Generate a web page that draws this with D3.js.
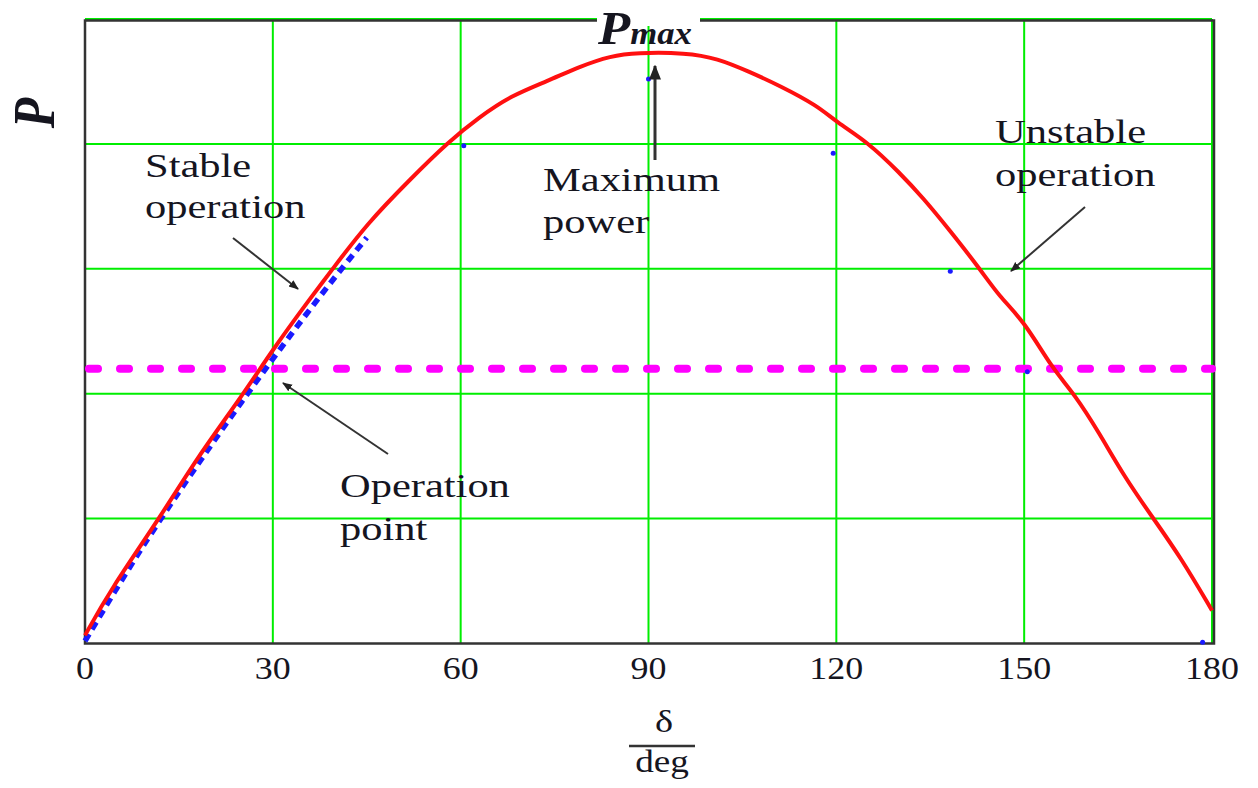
<!DOCTYPE html>
<html lang="en">
<head>
<meta charset="utf-8">
<title>Power angle curve</title>
<script src="https://d3js.org/d3.v7.min.js"></script>
<style>
  body { margin: 0; background: #fff; }
  text { font-family: "Liberation Serif", "Times New Roman", serif; fill: #15151f; }
</style>
</head>
<body>
<script>
// tick labels on the delta axis
var xTicks = [0, 30, 60, 90, 120, 150, 180];
var yGrid = [0.2, 0.4, 0.6, 0.8, 1.0];

// red curve P(delta)
var redDeg = [0, 4, 12, 18, 25, 30, 36, 39.5, 45, 52, 58, 63, 68, 74, 79, 84, 88,
              96, 101, 106, 111, 117, 120, 125, 130, 134, 138, 143, 146, 150, 154.5, 158, 162, 166, 170.5, 175, 180];
var redP = [0.013, 0.085, 0.202, 0.299, 0.395, 0.471, 0.553, 0.599, 0.672, 0.744, 0.803, 0.843, 0.877, 0.901, 0.924, 0.941, 0.946,
            0.946, 0.937, 0.916, 0.893, 0.861, 0.835, 0.803, 0.755, 0.712, 0.663, 0.599, 0.556, 0.516, 0.44, 0.40, 0.337, 0.267, 0.202, 0.138, 0.053];

// blue dashed curve (only the visible part)
var blueDeg = [0, 5, 10, 15, 20, 25, 30, 35, 40, 45];
var blueP = [0.004, 0.088, 0.168, 0.243, 0.316, 0.387, 0.456, 0.523, 0.588, 0.65];

// leftover blue fragments
var fragDeg = [60.5, 90, 119.5, 138.2, 150.5, 178.5];
var fragP = [0.797, 0.904, 0.785, 0.596, 0.435, 0.002];

// operating power (magenta line)
var opP = 0.44;

var W = 1258, H = 788;
var svg = d3.select("body").append("svg").attr("width", W).attr("height", H);

var x = d3.scaleLinear().domain([0, 180]).range([85, 1212]);
var y = d3.scaleLinear().domain([0, 1]).range([643.5, 19]);

// arrow marker
svg.append("defs").append("marker")
  .attr("id", "ah").attr("viewBox", "0 0 10 10")
  .attr("refX", 9).attr("refY", 5)
  .attr("markerWidth", 5).attr("markerHeight", 5)
  .attr("orient", "auto-start-reverse")
  .append("path").attr("d", "M0,1 L10,5 L0,9 Z").attr("fill", "#222");

// grid
svg.append("g").selectAll("line").data(xTicks.slice(1))
  .enter().append("line")
  .attr("x1", function(d) { return x(d); }).attr("x2", function(d) { return x(d); })
  .attr("y1", y(1)).attr("y2", y(0))
  .attr("stroke", "#00ee00").attr("stroke-width", 2);

svg.append("g").selectAll("line").data(yGrid)
  .enter().append("line")
  .attr("x1", x(0)).attr("x2", x(180))
  .attr("y1", function(d) { return y(d); }).attr("y2", function(d) { return y(d); })
  .attr("stroke", "#00ee00").attr("stroke-width", 2);

// black frame
svg.append("rect")
  .attr("x", x(0)).attr("y", y(1) + 1.5)
  .attr("width", x(180) - x(0) + 2).attr("height", y(0) - y(1) - 1.5)
  .attr("fill", "none").attr("stroke", "#333").attr("stroke-width", 2.5);

// gap in top frame for the Pmax label
svg.append("rect").attr("x", 597).attr("y", 8).attr("width", 103).attr("height", 18).attr("fill", "#fff");

// tick labels
svg.append("g").selectAll("text").data(xTicks)
  .enter().append("text")
  .attr("transform", function(d) { return "translate(" + x(d) + ",679) scale(1.16,1)"; })
  .attr("text-anchor", "middle")
  .style("font-size", "31px")
  .text(function(d) { return d; });

// magenta operating line
svg.append("line")
  .attr("x1", x(0) + 4).attr("x2", x(180))
  .attr("y1", y(opP)).attr("y2", y(opP))
  .attr("stroke", "#ff00ff").attr("stroke-width", 8)
  .attr("stroke-linecap", "round")
  .attr("stroke-dasharray", "9 22");

var line = d3.line()
  .x(function(d) { return x(d[0]); })
  .y(function(d) { return y(d[1]); })
  .curve(d3.curveBasis);

// blue dashed curve
svg.append("path")
  .datum(d3.zip(blueDeg, blueP))
  .attr("d", line)
  .attr("fill", "none").attr("stroke", "#1a1aff").attr("stroke-width", 5.5)
  .attr("stroke-dasharray", "8 6");

// red curve
svg.append("path")
  .datum(d3.zip(redDeg, redP))
  .attr("d", line)
  .attr("fill", "none").attr("stroke", "#ff1010").attr("stroke-width", 4);

svg.append("g").selectAll("circle").data(d3.zip(fragDeg, fragP))
  .enter().append("circle")
  .attr("cx", function(d) { return x(d[0]); })
  .attr("cy", function(d) { return y(d[1]); })
  .attr("r", 2.5).attr("fill", "#1a1aff");

// annotations
function label(x0, lines, base, step) {
  lines.forEach(function(t, i) {
    svg.append("text")
      .attr("transform", "translate(" + x0 + "," + (base + i * step) + ") scale(1.25,1)")
      .style("font-size", "34px")
      .text(t);
  });
}
label(145, ["Stable", "operation"], 177, 41);
label(543, ["Maximum", "power"], 191, 42);
label(995, ["Unstable", "operation"], 143, 43);
label(340, ["Operation", "point"], 497, 43);

// arrows
function arrow(x1, y1, x2, y2, w) {
  svg.append("line")
    .attr("x1", x1).attr("y1", y1).attr("x2", x2).attr("y2", y2)
    .attr("stroke", "#333").attr("stroke-width", w)
    .attr("marker-end", "url(#ah)");
}
arrow(233, 238, 298, 289, 2);
arrow(655, 160, 655, 66, 3);
arrow(1085, 207, 1011, 271, 2);
arrow(388, 454, 283, 383, 2);

// Pmax label
var pm = svg.append("text")
  .attr("transform", "translate(598,44) scale(1.12,1)")
  .style("font-weight", "bold").style("font-style", "italic");
pm.append("tspan").style("font-size", "47px").text("P");
pm.append("tspan").style("font-size", "31px").text("max");

// axis titles
svg.append("text")
  .attr("transform", "translate(54,113) scale(1.2,1) rotate(-90)")
  .attr("text-anchor", "middle")
  .style("font-size", "50px").style("font-weight", "bold").style("font-style", "italic")
  .text("P");

svg.append("text")
  .attr("transform", "translate(664,732) scale(1.2,1)")
  .attr("text-anchor", "middle").style("font-size", "32px")
  .text("δ");
svg.append("line")
  .attr("x1", 629).attr("x2", 695).attr("y1", 746).attr("y2", 746)
  .attr("stroke", "#333").attr("stroke-width", 2.5);
svg.append("text")
  .attr("transform", "translate(662,772) scale(1.2,1)")
  .attr("text-anchor", "middle").style("font-size", "31px")
  .text("deg");
</script>
</body>
</html>
